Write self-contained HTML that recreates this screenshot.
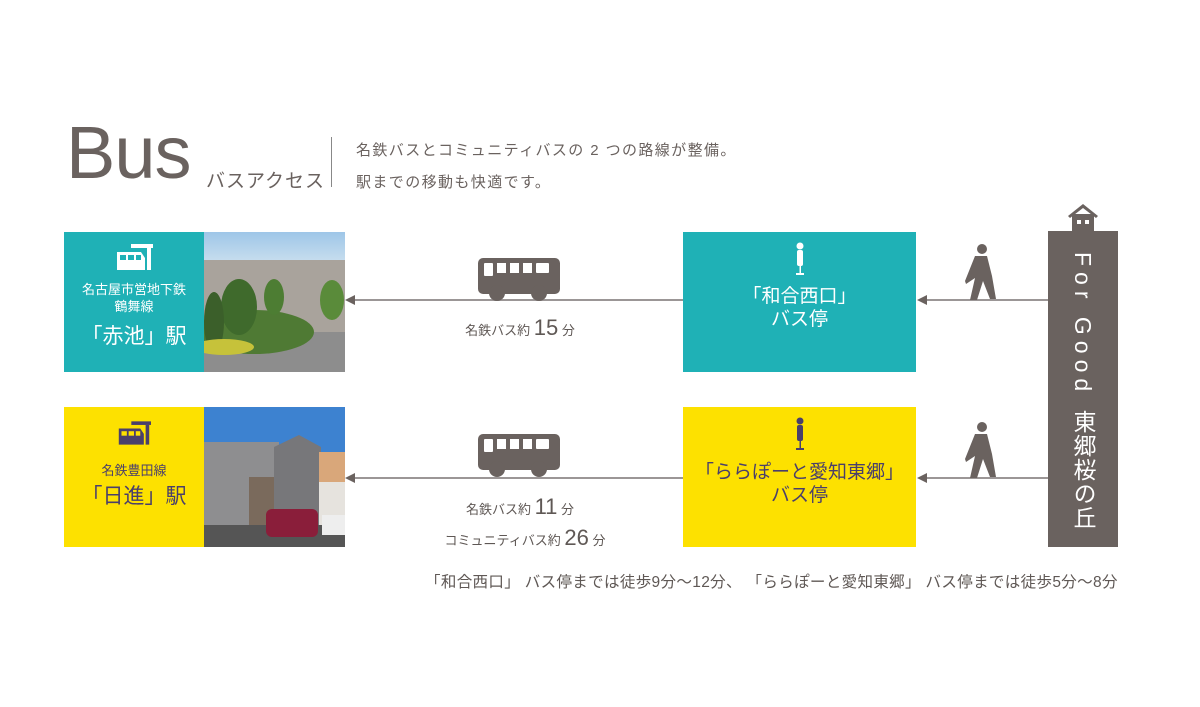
<!DOCTYPE html>
<html><head><meta charset="utf-8"><style>
body{margin:0;width:1200px;height:707px;background:#fff;position:relative;overflow:hidden;font-family:"Liberation Sans","Noto Sans CJK JP",sans-serif;color:#5f5855}
.a{position:absolute}
.c{text-align:center;white-space:nowrap}
</style></head><body>
<div class="a" style="left:66px;top:108px;font-size:74px;color:#6a625f;letter-spacing:-1px;line-height:90px">Bus</div>
<div class="a" style="left:206px;top:166px;font-size:19px;color:#6a625f;letter-spacing:1px">バスアクセス</div>
<div class="a" style="left:331px;top:137px;width:1px;height:50px;background:#888"></div>
<div class="a" style="left:356px;top:135px;font-size:15px;color:#6a625f;line-height:32px;letter-spacing:1.4px">名鉄バスとコミュニティバスの 2 つの路線が整備。<br>駅までの移動も快適です。</div>

<div class="a c" style="left:64px;top:232px;width:140px;height:140px;background:#1fb1b6;color:#fff">
<svg width="38" height="26" style="margin-top:12px" viewBox="0 0 38 26"><rect x="16" y="0" width="22" height="4" fill="#fff"/><rect x="32" y="4" width="4" height="22" fill="#fff"/><path d="M2 8h24l4 6v12H2z" fill="#fff"/><rect x="5" y="11" width="6" height="5" fill="#1fb1b6"/><rect x="13" y="11" width="6" height="5" fill="#1fb1b6"/><rect x="21" y="11" width="5" height="5" fill="#1fb1b6"/></svg>
<div style="font-size:13px;line-height:17px;margin-top:6px">名古屋市営地下鉄<br>鶴舞線</div>
<div style="font-size:21px;margin-top:5px">「赤池」駅</div></div>
<svg class="a" style="left:204px;top:232px" width="141" height="140"><defs><linearGradient id="s1" x1="0" y1="0" x2="0" y2="1"><stop offset="0" stop-color="#9ec6e8"/><stop offset="1" stop-color="#d6e6f0"/></linearGradient></defs><rect width="141" height="40" fill="url(#s1)"/><rect y="28" width="141" height="80" fill="#a9a39c"/><rect y="100" width="141" height="40" fill="#8d8d8d"/><ellipse cx="50" cy="100" rx="60" ry="22" fill="#4f7a34"/><ellipse cx="35" cy="75" rx="18" ry="28" fill="#3f6a2c"/><ellipse cx="70" cy="65" rx="10" ry="18" fill="#4d7d33"/><ellipse cx="128" cy="68" rx="12" ry="20" fill="#5a8b3a"/><ellipse cx="10" cy="90" rx="10" ry="30" fill="#3b5f2a"/><ellipse cx="20" cy="115" rx="30" ry="8" fill="#c6c23a"/></svg>

<div class="a c" style="left:64px;top:407px;width:140px;height:140px;background:#fde100;color:#4a3f6b">
<svg width="34" height="24" style="margin-top:14px" viewBox="0 0 38 26"><rect x="16" y="0" width="22" height="4" fill="#4a3f6b"/><rect x="32" y="4" width="4" height="22" fill="#4a3f6b"/><path d="M2 8h24l4 6v12H2z" fill="#4a3f6b"/><rect x="5" y="11" width="6" height="5" fill="#fde100"/><rect x="13" y="11" width="6" height="5" fill="#fde100"/><rect x="21" y="11" width="5" height="5" fill="#fde100"/></svg>
<div style="font-size:13px;margin-top:10px">名鉄豊田線</div>
<div style="font-size:21px;margin-top:1px">「日進」駅</div></div>
<svg class="a" style="left:204px;top:407px" width="141" height="140"><rect width="141" height="60" fill="#3d82d0"/><rect x="0" y="35" width="75" height="90" fill="#8e8e90"/><rect x="45" y="70" width="30" height="50" fill="#7a6a5c"/><path d="M70 40l25-12 22 12v80H70z" fill="#77777a"/><rect x="115" y="45" width="26" height="75" fill="#d9a77a"/><rect x="115" y="75" width="26" height="45" fill="#e6e3de"/><rect y="118" width="141" height="22" fill="#555"/><rect x="62" y="102" width="52" height="28" rx="6" fill="#8a1e3a"/><rect x="118" y="108" width="23" height="20" fill="#eee"/></svg>

<svg class="a" style="left:0;top:0" width="1200" height="707">
<g stroke="#9b9696" stroke-width="2"><line x1="352" y1="300" x2="683" y2="300"/><line x1="352" y1="478" x2="683" y2="478"/><line x1="924" y1="300" x2="1048" y2="300"/><line x1="924" y1="478" x2="1048" y2="478"/></g>
<g fill="#6a625f"><path d="M345 300l10-5v10z"/><path d="M345 478l10-5v10z"/><path d="M917 300l10-5v10z"/><path d="M917 478l10-5v10z"/></g>
<g fill="#6a625f"><rect x="478" y="258" width="82" height="36" rx="5"/><circle cx="497" cy="293" r="8"/><circle cx="539" cy="293" r="8"/></g>
<g fill="#fff"><rect x="484" y="263" width="9" height="13" rx="1"/><rect x="497" y="263" width="9" height="10"/><rect x="510" y="263" width="9" height="10"/><rect x="523" y="263" width="9" height="10"/><rect x="536" y="263" width="13" height="10" rx="1"/></g>
<g fill="#6a625f"><rect x="478" y="434" width="82" height="36" rx="5"/><circle cx="497" cy="469" r="8"/><circle cx="539" cy="469" r="8"/></g>
<g fill="#fff"><rect x="484" y="439" width="9" height="13" rx="1"/><rect x="497" y="439" width="9" height="10"/><rect x="510" y="439" width="9" height="10"/><rect x="523" y="439" width="9" height="10"/><rect x="536" y="439" width="13" height="10" rx="1"/></g>
<g fill="#6a625f"><circle cx="982" cy="249" r="5"/><path d="M975 256h12l5 20 4 23h-6l-7-18-6 19h-7l5-22-9 6-1-3z"/><circle cx="982" cy="427" r="5"/><path d="M975 434h12l5 20 4 23h-6l-7-18-6 19h-7l5-22-9 6-1-3z"/></g>
<g fill="#6a625f"><path d="M1068 216l15-12 15 12-2 2-13-10-13 10z"/><rect x="1072" y="214" width="22" height="18"/></g>
<rect x="1077" y="220" width="4" height="4" fill="#fff"/><rect x="1085" y="220" width="4" height="4" fill="#fff"/>
</svg>

<div class="a c" style="left:450px;top:315px;width:140px;font-size:13px">名鉄バス約 <span style="font-size:22px">15</span> 分</div>
<div class="a c" style="left:450px;top:494px;width:140px;font-size:13px">名鉄バス約 <span style="font-size:22px">11</span> 分</div>
<div class="a c" style="left:430px;top:525px;width:190px;font-size:13px">コミュニティバス約 <span style="font-size:22px">26</span> 分</div>

<div class="a c" style="left:683px;top:232px;width:233px;height:140px;background:#1fb1b6;color:#fff">
<svg width="12" height="34" style="margin-top:10px"><circle cx="6" cy="4" r="3.5" fill="#fff"/><rect x="3" y="8" width="6" height="16" rx="2" fill="#fff"/><rect x="5.5" y="24" width="1.5" height="7" fill="#fff"/><rect x="2" y="31" width="8" height="2" fill="#fff"/></svg>
<div style="font-size:19px;line-height:23px;margin-top:4px">「和合西口」<br>バス停</div></div>
<div class="a c" style="left:683px;top:407px;width:233px;height:140px;background:#fde100;color:#4a3f6b">
<svg width="12" height="34" style="margin-top:10px"><circle cx="6" cy="4" r="3.5" fill="#4a3f6b"/><rect x="3" y="8" width="6" height="16" rx="2" fill="#4a3f6b"/><rect x="5.5" y="24" width="1.5" height="7" fill="#4a3f6b"/><rect x="2" y="31" width="8" height="2" fill="#4a3f6b"/></svg>
<div style="font-size:19px;line-height:23px;margin-top:5px">「ららぽーと愛知東郷」<br>バス停</div></div>

<div class="a" style="left:1048px;top:231px;width:70px;height:316px;background:#6a625f"></div>
<div class="a" style="left:1068px;top:252px;height:295px;width:30px;writing-mode:vertical-rl;text-orientation:mixed;color:#fff;font-size:23px;line-height:30px;letter-spacing:6px;white-space:nowrap">For Good <span style="letter-spacing:1px;font-size:23px">東郷桜の丘</span></div>

<div class="a" style="left:425px;top:570px;font-size:15.5px;white-space:nowrap;color:#5f5855;letter-spacing:0.35px">「和合西口」 バス停までは徒歩9分～12分、 「ららぽーと愛知東郷」 バス停までは徒歩5分～8分</div>
</body></html>
